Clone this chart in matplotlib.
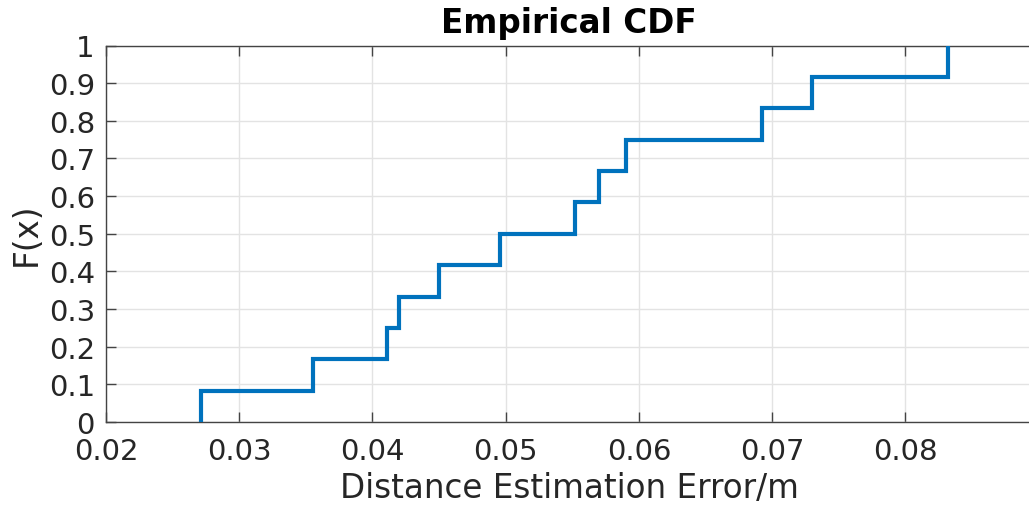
import numpy as np
import matplotlib
matplotlib.use('Agg')
import matplotlib.pyplot as plt

plt.rcParams['font.family'] = ['DejaVu Sans']

# sample values (jump locations of the empirical CDF)
errors = [0.0271, 0.0355, 0.0411, 0.0420, 0.0450, 0.0496,
          0.0552, 0.0570, 0.0590, 0.0692, 0.0730, 0.0832]
xticks = [0.02, 0.03, 0.04, 0.05, 0.06, 0.07, 0.08]
xtick_labels = ['0.02', '0.03', '0.04', '0.05', '0.06', '0.07', '0.08']
yticks = [0, 0.1, 0.2, 0.3, 0.4, 0.5, 0.6, 0.7, 0.8, 0.9, 1.0]
ytick_labels = ['0', '0.1', '0.2', '0.3', '0.4', '0.5', '0.6', '0.7', '0.8', '0.9', '1']

TXT = '#262626'

x = np.sort(np.array(errors))
n = len(x)
F = np.arange(1, n + 1) / n
xs = np.concatenate([[x[0]], x])
ys = np.concatenate([[0.0], F])

fig = plt.figure(figsize=(10.29, 5.06), dpi=100)
ax = fig.add_axes([106 / 1029, 1 - 423 / 506, 1 - 106 / 1029 + 0.003, (423 - 46.5) / 506])

ax.step(xs, ys, where='post', color='#0072BD', lw=3.0, solid_joinstyle='miter', zorder=3)

ax.set_xlim(0.02, 0.0895)
ax.set_ylim(0, 1)
ax.set_xticks(xticks)
ax.set_xticklabels(xtick_labels)
ax.set_yticks(yticks)
ax.set_yticklabels(ytick_labels)

ax.grid(True, color='#e3e3e3', linewidth=1.0, zorder=0)
ax.tick_params(direction='in', length=7, width=1, colors='#444444',
               labelcolor=TXT, labelsize=21, top=True, right=False)
ax.tick_params(axis='x', pad=11)
ax.tick_params(axis='y', pad=8)
for s in ax.spines.values():
    s.set_color('#444444')
    s.set_linewidth(1.0)
ax.spines['right'].set_visible(False)

ax.set_xlabel('Distance Estimation Error/m', fontsize=23.5, color=TXT, labelpad=4)
ax.set_ylabel('F(x)', fontsize=23.5, color=TXT, labelpad=4)
ax.set_title('Empirical CDF', fontsize=23.5, fontweight='bold', color='#000000', pad=10)

plt.savefig('out.png', dpi=100)
plt.close()
